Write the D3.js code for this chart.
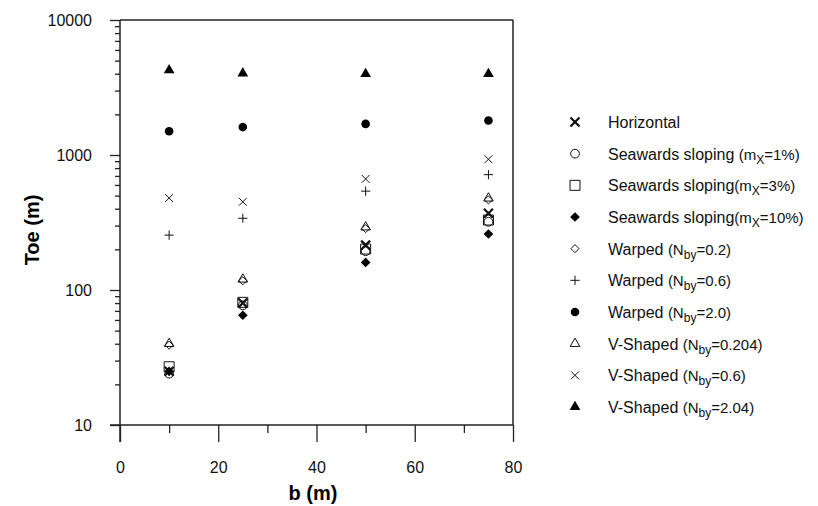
<!DOCTYPE html>
<html>
<head>
<meta charset="utf-8">
<script src="https://cdn.jsdelivr.net/npm/d3@7"></script>
<style>
  body { margin: 0; background: #fff; }
  svg { font-family: "Liberation Sans", Arial, sans-serif; }
  .axis text { font-size: 16px; fill: #111; }
  .axis path { display: none; }
  .axis line { stroke: #222; stroke-width: 1.3; }
</style>
</head>
<body>
<div id="chart"></div>
<script>
// b (m) values along the x axis
const bValues = [10, 25, 50, 75];

// Toe (m) for each case
const horizontal   = [25, 80, 215, 370];
const seaward1     = [24, 77, 194, 320];
const seaward3     = [27, 81, 201, 330];
const seaward10    = [25, 65, 160, 260];
const warped02     = [39, 117, 285, 465];
const warped06     = [255, 340, 540, 715];
const warped20     = [1500, 1610, 1700, 1800];
const vshaped0204  = [40, 120, 292, 478];
const vshaped06    = [480, 450, 665, 930];
const vshaped204   = [4250, 4030, 3980, 3980];

const xTicks = [0, 20, 40, 60, 80];
const xMinor = [10, 30, 50, 70];
const yTicks = [10, 100, 1000, 10000];

const width = 818, height = 506;
const x = d3.scaleLinear().domain([0, 80]).range([120, 513]);
const y = d3.scaleLog().domain([10, 10000]).range([425, 20]);

const svg = d3.select("#chart").append("svg")
  .attr("width", width)
  .attr("height", height);

// frame + axis lines
const frame = svg.append("g").attr("stroke", "#222").attr("stroke-width", 1.5);
frame.append("line").attr("x1", x(0) - 10).attr("x2", x(80)).attr("y1", y(10)).attr("y2", y(10));
frame.append("line").attr("x1", x(0)).attr("x2", x(0)).attr("y1", y(10000)).attr("y2", y(10) + 17);
frame.append("line").attr("x1", x(0)).attr("x2", x(80)).attr("y1", y(10000)).attr("y2", y(10000));
frame.append("line").attr("x1", x(80)).attr("x2", x(80)).attr("y1", y(10000)).attr("y2", y(10));

// x axis
svg.append("g").attr("class", "axis")
  .attr("transform", `translate(0,${y(10)})`)
  .call(d3.axisBottom(x).tickValues(xTicks).tickSize(17).tickPadding(20).tickFormat(d3.format("d")));
svg.append("g").attr("class", "axis")
  .attr("transform", `translate(0,${y(10)})`)
  .call(d3.axisBottom(x).tickValues(xMinor).tickSize(8).tickFormat(""));

// y axis
const yMinor = [];
[10, 100, 1000].forEach(d => { for (let k = 2; k <= 9; k++) yMinor.push(d * k); });
svg.append("g").attr("class", "axis")
  .attr("transform", `translate(${x(0)},0)`)
  .call(d3.axisLeft(y).tickValues(yTicks).tickSize(10).tickPadding(18).tickFormat(d3.format("d")));
svg.append("g").attr("class", "axis")
  .attr("transform", `translate(${x(0)},0)`)
  .call(d3.axisLeft(y).tickValues(yMinor).tickSize(5).tickFormat(""));

// axis titles
svg.append("text")
  .attr("x", 313).attr("y", 500)
  .attr("text-anchor", "middle")
  .attr("font-size", 20).attr("font-weight", "bold")
  .text("b (m)");
svg.append("text")
  .attr("transform", "translate(39,230) rotate(-90)")
  .attr("text-anchor", "middle")
  .attr("font-size", 20).attr("font-weight", "bold")
  .text("Toe (m)");

// series definitions: symbol, size, filled, stroke width
const series = [
  { values: horizontal,  sym: d3.symbolTimes,    size: 55, fill: false, sw: 2.2, main: "Horizontal", paren: null },
  { values: seaward1,    sym: d3.symbolCircle,   size: 60, fill: false, sw: 1,   main: "Seawards sloping ", paren: ["(m", "X", "=1%)"] },
  { values: seaward3,    sym: d3.symbolSquare,   size: 100, fill: false, sw: 1,  main: "Seawards sloping", paren: ["(m", "X", "=3%)"] },
  { values: seaward10,   sym: d3.symbolDiamond2, size: 60, fill: true,  sw: 0,   main: "Seawards sloping", paren: ["(m", "X", "=10%)"] },
  { values: warped02,    sym: d3.symbolDiamond2, size: 42, fill: false, sw: 1,   main: "Warped ", paren: ["(N", "by", "=0.2)"] },
  { values: warped06,    sym: d3.symbolPlus,     size: 30, fill: false, sw: 1,   main: "Warped ", paren: ["(N", "by", "=0.6)"] },
  { values: warped20,    sym: d3.symbolCircle,   size: 58, fill: true,  sw: 0,   main: "Warped ", paren: ["(N", "by", "=2.0)"] },
  { values: vshaped0204, sym: d3.symbolTriangle, size: 40, fill: false, sw: 1,   main: "V-Shaped ", paren: ["(N", "by", "=0.204)"] },
  { values: vshaped06,   sym: d3.symbolTimes,    size: 42, fill: false, sw: 1,   main: "V-Shaped ", paren: ["(N", "by", "=0.6)"] },
  { values: vshaped204,  sym: d3.symbolTriangle, size: 50, fill: true,  sw: 0,   main: "V-Shaped ", paren: ["(N", "by", "=2.04)"] }
];

function styleMarker(sel, s) {
  sel.attr("d", d3.symbol().type(s.sym).size(s.size))
    .attr("fill", s.fill ? "#000" : "none")
    .attr("stroke", s.fill ? "none" : "#111")
    .attr("stroke-width", s.sw);
}

// points
series.forEach(s => {
  svg.append("g").selectAll("path")
    .data(bValues.map((b, i) => [b, s.values[i]]))
    .join("path")
    .attr("transform", d => `translate(${x(d[0])},${y(d[1])})`)
    .call(styleMarker, s);
});

// legend
const ly = d3.scaleLinear().domain([0, series.length - 1]).range([122, 407]);
const legend = svg.append("g");
series.forEach((s, i) => {
  legend.append("path")
    .attr("transform", `translate(575,${ly(i)})`)
    .call(styleMarker, s);
  const t = legend.append("text")
    .attr("x", 608).attr("y", ly(i) + 6)
    .attr("font-size", 16).attr("fill", "#111");
  t.append("tspan").text(s.main);
  if (s.paren) {
    t.append("tspan").attr("font-size", 15).text(s.paren[0]);
    t.append("tspan").attr("font-size", 12).attr("dy", 4).text(s.paren[1]);
    t.append("tspan").attr("font-size", 15).attr("dy", -4).text(s.paren[2]);
  }
});
</script>
</body>
</html>
